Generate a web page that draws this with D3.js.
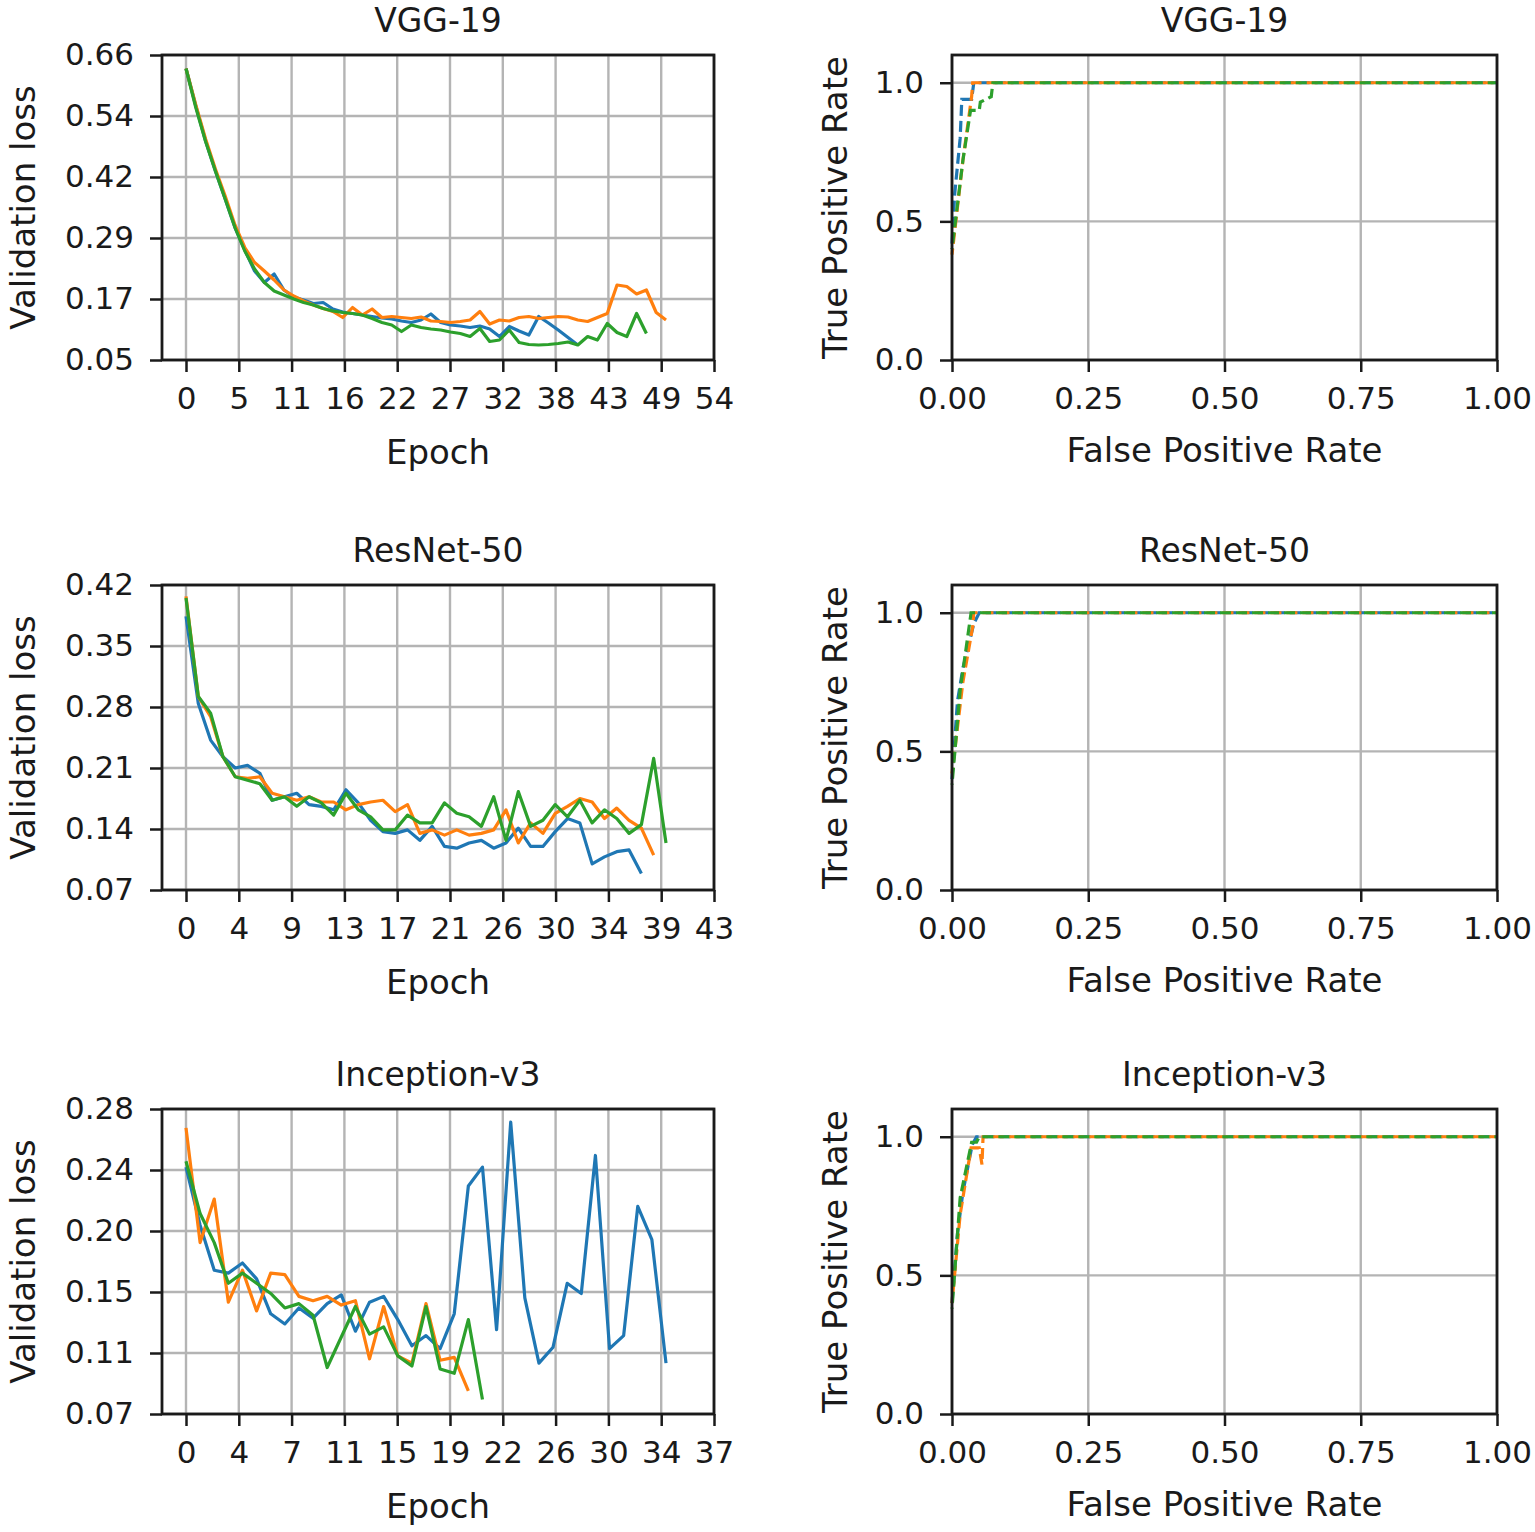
<!DOCTYPE html>
<html>
<head>
<meta charset="utf-8">
<script src="https://cdn.jsdelivr.net/npm/d3@7"></script>
<style>
  body { margin: 0; background: #fff; }
  text { font-family: "DejaVu Sans", sans-serif; fill: #1a1a1a; }
</style>
</head>
<body>
<svg id="chart" width="1535" height="1532"></svg>
<script>
// model names, one per row
var models = ['VGG-19', 'ResNet-50', 'Inception-v3'];
var colors = ['#1f77b4', '#ff7f0e', '#2ca02c'];

// validation loss per epoch, three runs per model (blue, orange, green)
var vggBlue = [0.633, 0.558, 0.488, 0.428, 0.372, 0.315, 0.27, 0.228, 0.205, 0.222, 0.19, 0.176, 0.17, 0.163, 0.165, 0.152, 0.146, 0.143, 0.14, 0.137, 0.134, 0.132, 0.128, 0.125, 0.13, 0.142, 0.125, 0.12, 0.118, 0.115, 0.118, 0.112, 0.097, 0.117, 0.108, 0.1, 0.137, 0.124, 0.11, 0.095, 0.08];
var vggOrange = [0.633, 0.56, 0.492, 0.432, 0.378, 0.32, 0.275, 0.245, 0.228, 0.21, 0.19, 0.178, 0.168, 0.16, 0.153, 0.147, 0.135, 0.155, 0.14, 0.152, 0.135, 0.137, 0.135, 0.133, 0.136, 0.128, 0.127, 0.125, 0.127, 0.13, 0.147, 0.122, 0.13, 0.128, 0.135, 0.137, 0.133, 0.135, 0.137, 0.136, 0.13, 0.127, 0.135, 0.143, 0.2, 0.197, 0.182, 0.19, 0.145, 0.13];
var vggGreen = [0.633, 0.555, 0.487, 0.428, 0.372, 0.315, 0.268, 0.232, 0.205, 0.188, 0.18, 0.172, 0.165, 0.16, 0.153, 0.148, 0.145, 0.143, 0.14, 0.133, 0.125, 0.12, 0.107, 0.12, 0.115, 0.112, 0.11, 0.106, 0.103, 0.097, 0.113, 0.087, 0.09, 0.11, 0.085, 0.081, 0.08, 0.081, 0.083, 0.086, 0.08, 0.097, 0.09, 0.123, 0.105, 0.097, 0.143, 0.103];

var resBlue = [0.384, 0.284, 0.242, 0.223, 0.21, 0.213, 0.204, 0.173, 0.177, 0.181, 0.168, 0.166, 0.162, 0.185, 0.17, 0.15, 0.137, 0.135, 0.139, 0.127, 0.143, 0.12, 0.118, 0.124, 0.127, 0.118, 0.124, 0.141, 0.12, 0.12, 0.137, 0.152, 0.147, 0.1, 0.108, 0.114, 0.116, 0.089];
var resOrange = [0.407, 0.292, 0.269, 0.223, 0.2, 0.198, 0.2, 0.181, 0.177, 0.173, 0.177, 0.171, 0.171, 0.162, 0.168, 0.171, 0.173, 0.16, 0.168, 0.135, 0.139, 0.133, 0.139, 0.133, 0.135, 0.139, 0.162, 0.124, 0.147, 0.135, 0.158, 0.166, 0.175, 0.171, 0.152, 0.164, 0.15, 0.141, 0.11];
var resGreen = [0.405, 0.292, 0.273, 0.223, 0.2, 0.196, 0.192, 0.173, 0.177, 0.166, 0.177, 0.17, 0.156, 0.181, 0.162, 0.154, 0.139, 0.139, 0.156, 0.147, 0.147, 0.17, 0.158, 0.154, 0.143, 0.177, 0.127, 0.183, 0.143, 0.15, 0.168, 0.154, 0.173, 0.147, 0.162, 0.152, 0.135, 0.145, 0.221, 0.124];

var incBlue = [0.24, 0.2, 0.169, 0.167, 0.174, 0.163, 0.139, 0.132, 0.143, 0.136, 0.146, 0.152, 0.127, 0.147, 0.151, 0.135, 0.117, 0.124, 0.115, 0.139, 0.227, 0.24, 0.128, 0.271, 0.15, 0.105, 0.116, 0.16, 0.153, 0.248, 0.115, 0.124, 0.213, 0.19, 0.105];
var incOrange = [0.267, 0.188, 0.218, 0.147, 0.169, 0.141, 0.167, 0.166, 0.151, 0.148, 0.151, 0.145, 0.148, 0.108, 0.144, 0.11, 0.105, 0.146, 0.107, 0.109, 0.086];
var incGreen = [0.244, 0.208, 0.188, 0.16, 0.167, 0.16, 0.153, 0.143, 0.146, 0.138, 0.102, 0.123, 0.144, 0.125, 0.13, 0.11, 0.103, 0.144, 0.101, 0.098, 0.135, 0.08];

// tick labels of the loss plots
var vggEpochTicks = [0, 5, 11, 16, 22, 27, 32, 38, 43, 49, 54];
var resEpochTicks = [0, 4, 9, 13, 17, 21, 26, 30, 34, 39, 43];
var incEpochTicks = [0, 4, 7, 11, 15, 19, 22, 26, 30, 34, 37];
var vggLossTicks = ['0.05', '0.17', '0.29', '0.42', '0.54', '0.66'];
var resLossTicks = ['0.07', '0.14', '0.21', '0.28', '0.35', '0.42'];
var incLossTicks = ['0.07', '0.11', '0.15', '0.20', '0.24', '0.28'];
var lossLimits = [[0.05, 0.66], [0.07, 0.42], [0.07, 0.28]];

// ROC curves: false positive rate / true positive rate, three runs per model
var vggFprBlue = [0, 0.005, 0.015, 0.018, 0.036, 0.04, 1];
var vggTprBlue = [0.42, 0.6, 0.8, 0.94, 0.94, 1, 1];
var vggFprOrange = [0, 0.02, 0.036, 0.038, 1];
var vggTprOrange = [0.38, 0.72, 0.95, 1, 1];
var vggFprGreen = [0, 0.02, 0.034, 0.05, 0.052, 0.072, 0.075, 1];
var vggTprGreen = [0.4, 0.72, 0.9, 0.9, 0.93, 0.95, 1, 1];

var resFprBlue = [0, 0.01, 0.02, 0.04, 0.05, 1];
var resTprBlue = [0.4, 0.68, 0.8, 0.96, 1, 1];
var resFprOrange = [0, 0.02, 0.038, 0.04, 1];
var resTprOrange = [0.42, 0.75, 0.95, 1, 1];
var resFprGreen = [0, 0.015, 0.035, 1];
var resTprGreen = [0.38, 0.72, 1, 1];

var incFprBlue = [0, 0.01, 0.02, 0.037, 0.045, 1];
var incTprBlue = [0.4, 0.65, 0.8, 0.97, 1, 1];
var incFprOrange = [0, 0.015, 0.035, 0.05, 0.055, 0.057, 1];
var incTprOrange = [0.4, 0.72, 0.96, 0.96, 0.9, 1, 1];
var incFprGreen = [0, 0.015, 0.036, 0.045, 0.05, 1];
var incTprGreen = [0.38, 0.78, 0.98, 0.98, 1, 1];

var rocXTicks = [0, 0.25, 0.5, 0.75, 1];
var rocYTicks = [0, 0.5, 1];

var lossSeries = [[vggBlue, vggOrange, vggGreen], [resBlue, resOrange, resGreen], [incBlue, incOrange, incGreen]];
var epochTicks = [vggEpochTicks, resEpochTicks, incEpochTicks];
var lossTicks = [vggLossTicks, resLossTicks, incLossTicks];
var rocSeries = [
  [[vggFprBlue, vggTprBlue], [vggFprOrange, vggTprOrange], [vggFprGreen, vggTprGreen]],
  [[resFprBlue, resTprBlue], [resFprOrange, resTprOrange], [resFprGreen, resTprGreen]],
  [[incFprBlue, incTprBlue], [incFprOrange, incTprOrange], [incFprGreen, incTprGreen]]
];

// layout
var rowTops = [55, 585, 1109], rowH = 305;
var leftX = [162, 714], rightX = [952, 1497];
var tickFont = 31, labelFont = 34, titleFont = 33;

var svg = d3.select('#chart');
svg.append('rect').attr('width', 1535).attr('height', 1532).attr('fill', '#fff');

function styleAxis(g) {
  g.select('.domain').remove();
  g.selectAll('.tick line').attr('stroke', '#1a1a1a').attr('stroke-width', 2.5);
  g.selectAll('.tick text').attr('font-size', tickFont).attr('fill', '#1a1a1a')
    .attr('font-family', 'DejaVu Sans, sans-serif');
}

function drawFrame(g, x, y, xVals, yVals) {
  var grid = g.append('g');
  grid.selectAll('.vg').data(xVals).enter().append('line')
    .attr('x1', (d) => x(d)).attr('x2', (d) => x(d))
    .attr('y1', y.range()[0]).attr('y2', y.range()[1])
    .attr('stroke', '#b4b4b4').attr('stroke-width', 2.4);
  grid.selectAll('.hg').data(yVals).enter().append('line')
    .attr('y1', (d) => y(d)).attr('y2', (d) => y(d))
    .attr('x1', x.range()[0]).attr('x2', x.range()[1])
    .attr('stroke', '#b4b4b4').attr('stroke-width', 2.4);
}

function drawSpines(g, x, y) {
  g.append('rect')
    .attr('x', x.range()[0]).attr('y', y.range()[1])
    .attr('width', x.range()[1] - x.range()[0])
    .attr('height', y.range()[0] - y.range()[1])
    .attr('fill', 'none').attr('stroke', '#1a1a1a').attr('stroke-width', 2.8);
}

models.forEach(function (name, r) {
  var top = rowTops[r], bottom = top + rowH;

  // ---- loss panel ----
  var series = lossSeries[r];
  var L = d3.max(series, (s) => s.length) - 1;
  var xmax = 1.1 * L;
  var x = d3.scaleLinear().domain([-0.05 * L, xmax]).range(leftX);
  var y = d3.scaleLinear().domain(lossLimits[r]).range([bottom, top]);
  var xt = epochTicks[r].map((d, i) => i * xmax / 10);
  var lo = lossLimits[r][0], hi = lossLimits[r][1];
  var yt = lossTicks[r].map((d, i) => lo + i * (hi - lo) / 5);

  var g = svg.append('g');
  drawFrame(g, x, y, xt, yt);

  var line = d3.line().x((d, i) => x(i)).y((d) => y(d));
  series.forEach(function (s, k) {
    g.append('path').datum(s).attr('d', line)
      .attr('fill', 'none').attr('stroke', colors[k]).attr('stroke-width', 3.2)
      .attr('stroke-linejoin', 'round');
  });
  drawSpines(g, x, y);

  g.append('g').attr('transform', 'translate(0,' + bottom + ')')
    .call(d3.axisBottom(x).tickValues(xt).tickSize(12).tickPadding(15)
      .tickFormat((d, i) => epochTicks[r][i]))
    .call(styleAxis);
  g.append('g').attr('transform', 'translate(' + leftX[0] + ',0)')
    .call(d3.axisLeft(y).tickValues(yt).tickSize(12).tickPadding(16)
      .tickFormat((d, i) => lossTicks[r][i]))
    .call(styleAxis);

  var cx = (leftX[0] + leftX[1]) / 2;
  g.append('text').attr('x', cx).attr('y', top - 23).attr('text-anchor', 'middle')
    .attr('font-size', titleFont).text(name);
  g.append('text').attr('x', cx).attr('y', bottom + 104).attr('text-anchor', 'middle')
    .attr('font-size', labelFont).text('Epoch');
  g.append('text').attr('transform', 'translate(35,' + (top + rowH / 2) + ') rotate(-90)')
    .attr('text-anchor', 'middle').attr('font-size', labelFont).text('Validation loss');

  // ---- ROC panel ----
  var rx = d3.scaleLinear().domain([0, 1]).range(rightX);
  var ry = d3.scaleLinear().domain([0, 1.1]).range([bottom, top]);
  var h = svg.append('g');
  drawFrame(h, rx, ry, rocXTicks, rocYTicks);

  var roc = d3.line().x((d) => rx(d[0])).y((d) => ry(d[1]));
  rocSeries[r].forEach(function (c, k) {
    var pts = c[0].map((f, i) => [f, c[1][i]]);
    h.append('path').datum(pts).attr('d', roc)
      .attr('fill', 'none').attr('stroke', colors[k]).attr('stroke-width', 3.2)
      .attr('stroke-dasharray', '11,5').attr('stroke-dashoffset', k * 5);
  });
  drawSpines(h, rx, ry);

  h.append('g').attr('transform', 'translate(0,' + bottom + ')')
    .call(d3.axisBottom(rx).tickValues(rocXTicks).tickSize(12).tickPadding(15)
      .tickFormat(d3.format('.2f')))
    .call(styleAxis);
  h.append('g').attr('transform', 'translate(' + rightX[0] + ',0)')
    .call(d3.axisLeft(ry).tickValues(rocYTicks).tickSize(12).tickPadding(16)
      .tickFormat(d3.format('.1f')))
    .call(styleAxis);

  var rcx = (rightX[0] + rightX[1]) / 2;
  h.append('text').attr('x', rcx).attr('y', top - 23).attr('text-anchor', 'middle')
    .attr('font-size', titleFont).text(name);
  h.append('text').attr('x', rcx).attr('y', bottom + 102).attr('text-anchor', 'middle')
    .attr('font-size', labelFont).text('False Positive Rate');
  h.append('text').attr('transform', 'translate(847,' + (top + rowH / 2) + ') rotate(-90)')
    .attr('text-anchor', 'middle').attr('font-size', labelFont).text('True Positive Rate');
});
</script>
</body>
</html>
